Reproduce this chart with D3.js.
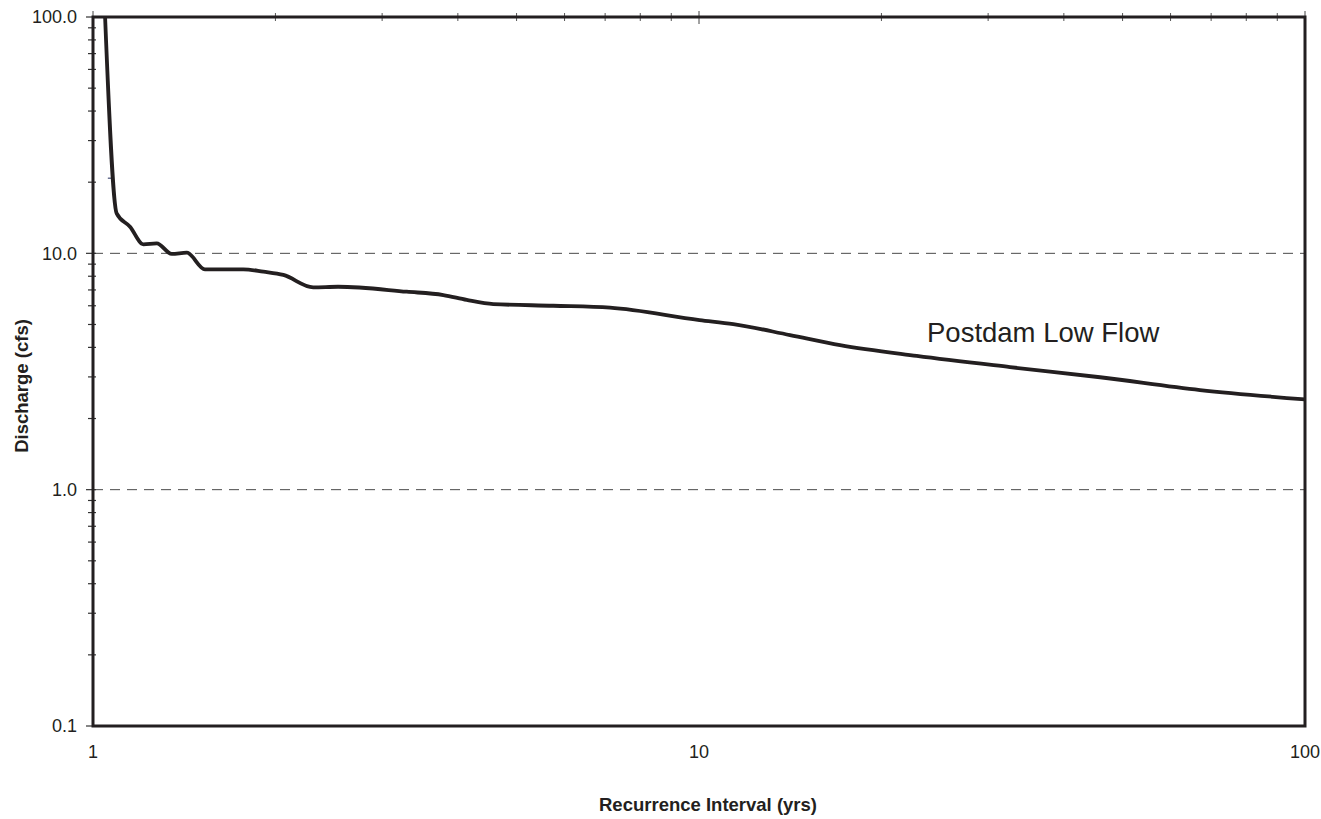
<!DOCTYPE html>
<html>
<head>
<meta charset="utf-8">
<script src="https://cdn.jsdelivr.net/npm/d3@7"></script>
<style>
  body { margin: 0; background: #fff; }
  svg text { font-family: "Liberation Sans", Arial, Helvetica, sans-serif; fill: #231f20; }
</style>
</head>
<body>
<div id="chart"></div>
<script>
// recurrence interval (yrs) and discharge (cfs)
var interval = [1.047, 1.094, 1.151, 1.211, 1.274, 1.349, 1.428, 1.530, 1.770, 1.910, 2.061, 2.309, 2.537,
                3.294, 3.785, 4.137, 4.577, 5.747, 7.13, 10.02, 11.39, 14.13, 17.09, 22.87, 32.6, 45.9, 67.1, 100];
var discharge = [100, 14.77, 12.96, 10.92, 11.02, 9.94, 10.06, 8.56, 8.56, 8.36, 8.10, 7.18, 7.22,
                 6.88, 6.66, 6.35, 6.10, 6.00, 5.89, 5.22, 5.02, 4.51, 4.09, 3.68, 3.30, 2.99, 2.64, 2.41];

var xTickVals = [1, 10, 100];
var xTickLabels = ["1", "10", "100"];
var yTickVals = [0.1, 1, 10, 100];
var yTickLabels = ["0.1", "1.0", "10.0", "100.0"];
var gridVals = [1, 10];
var seriesLabel = "Postdam Low Flow";

var width = 1321, height = 819;
var margin = {top: 17, right: 16, bottom: 93, left: 93};
var ink = "#231f20";

var svg = d3.select("#chart").append("svg")
    .attr("width", width)
    .attr("height", height);

var x = d3.scaleLog().domain([1, 100]).range([margin.left, width - margin.right]);
var y = d3.scaleLog().domain([0.1, 100]).range([height - margin.bottom, margin.top]);

// minor tick values (2..9 per decade)
function minorTicks(lo, hi) {
    var out = [];
    for (var d = lo; d < hi; d *= 10) {
        for (var k = 2; k <= 9; k++) out.push(d * k);
    }
    return out;
}

// dashed gridlines
svg.selectAll(".grid")
    .data(gridVals)
    .enter().append("line")
    .attr("x1", x(1)).attr("x2", x(100))
    .attr("y1", function(d) { return y(d); })
    .attr("y2", function(d) { return y(d); })
    .attr("stroke", "#4a4a4a")
    .attr("stroke-width", 1)
    .attr("stroke-dasharray", "10,7");

// top axis ticks crossing the frame
svg.selectAll(".xminor")
    .data(minorTicks(1, 100))
    .enter().append("line")
    .attr("x1", function(d) { return x(d); })
    .attr("x2", function(d) { return x(d); })
    .attr("y1", margin.top - 4)
    .attr("y2", margin.top + 4)
    .attr("stroke", "#555").attr("stroke-width", 1);
svg.selectAll(".xmajor")
    .data(xTickVals)
    .enter().append("line")
    .attr("x1", function(d) { return x(d); })
    .attr("x2", function(d) { return x(d); })
    .attr("y1", margin.top - 6)
    .attr("y2", margin.top + 7)
    .attr("stroke", "#444").attr("stroke-width", 1);

// left axis ticks
svg.selectAll(".yminor")
    .data(minorTicks(0.1, 100))
    .enter().append("line")
    .attr("x1", margin.left - 5).attr("x2", margin.left + 3)
    .attr("y1", function(d) { return y(d); })
    .attr("y2", function(d) { return y(d); })
    .attr("stroke", "#333").attr("stroke-width", 1.2);
svg.selectAll(".ymajor")
    .data(yTickVals)
    .enter().append("line")
    .attr("x1", margin.left - 7).attr("x2", margin.left + 3)
    .attr("y1", function(d) { return y(d); })
    .attr("y2", function(d) { return y(d); })
    .attr("stroke", "#333").attr("stroke-width", 1.2);

// small stray mark near the left axis
svg.append("line")
    .attr("x1", x(1.058)).attr("x2", x(1.077))
    .attr("y1", y(20.8)).attr("y2", y(20.8))
    .attr("stroke", "#1f2a5a").attr("stroke-width", 1);

// frame
svg.append("rect")
    .attr("x", x(1)).attr("y", y(100))
    .attr("width", x(100) - x(1))
    .attr("height", y(0.1) - y(100))
    .attr("fill", "none")
    .attr("stroke", ink)
    .attr("stroke-width", 3);

// the flow curve
var pts = interval.map(function(d, i) { return [d, discharge[i]]; });
var line = d3.line()
    .x(function(d) { return x(d[0]); })
    .y(function(d) { return y(d[1]); })
    .curve(d3.curveMonotoneX);

svg.append("path")
    .datum(pts)
    .attr("d", line)
    .attr("fill", "none")
    .attr("stroke", ink)
    .attr("stroke-width", 3.8)
    .attr("stroke-linejoin", "round");

// tick labels
svg.selectAll(".ylab")
    .data(yTickVals)
    .enter().append("text")
    .attr("x", margin.left - 16)
    .attr("y", function(d) { return y(d); })
    .attr("dy", "0.35em")
    .attr("text-anchor", "end")
    .attr("font-size", 18)
    .text(function(d, i) { return yTickLabels[i]; });

svg.selectAll(".xlab")
    .data(xTickVals)
    .enter().append("text")
    .attr("x", function(d) { return x(d); })
    .attr("y", 758)
    .attr("text-anchor", "middle")
    .attr("font-size", 18)
    .text(function(d, i) { return xTickLabels[i]; });

// axis titles
svg.append("text")
    .attr("x", 708)
    .attr("y", 811)
    .attr("text-anchor", "middle")
    .attr("font-size", 18.5)
    .attr("font-weight", "bold")
    .text("Recurrence Interval (yrs)");

svg.append("text")
    .attr("transform", "translate(28,386) rotate(-90)")
    .attr("text-anchor", "middle")
    .attr("font-size", 18.5)
    .attr("font-weight", "bold")
    .text("Discharge (cfs)");

// series label
svg.append("text")
    .attr("x", 927)
    .attr("y", 342)
    .attr("font-size", 27.5)
    .text(seriesLabel);
</script>
</body>
</html>
